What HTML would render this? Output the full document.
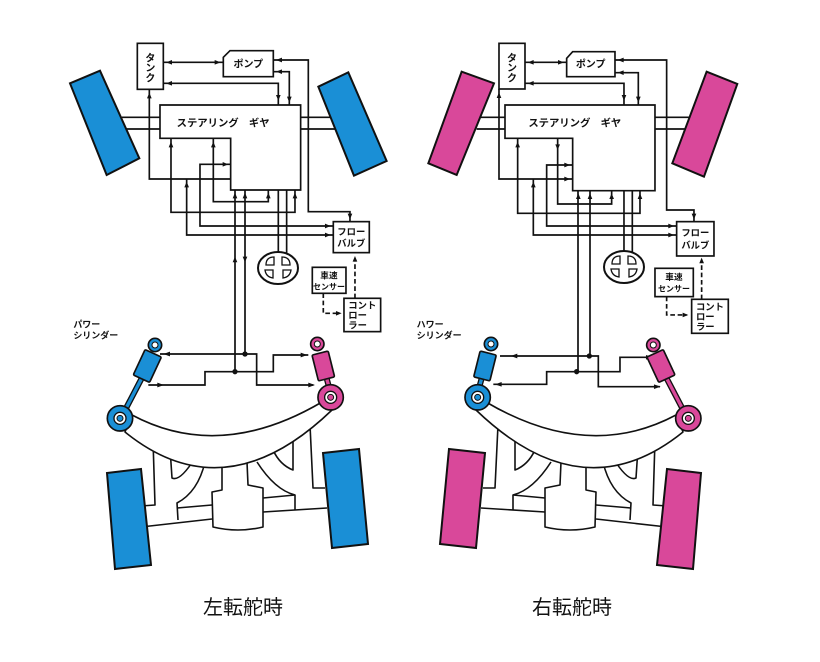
<!DOCTYPE html>
<html><head><meta charset="utf-8"><style>
html,body{margin:0;padding:0;background:#fff;}
svg{display:block;}
text{font-family:"Liberation Sans","Noto Sans CJK JP",sans-serif;fill:#111;}
</style></head><body>
<svg width="820" height="662" viewBox="0 0 820 662" xmlns="http://www.w3.org/2000/svg">
<defs>
<g id="chassis" fill="none" stroke="#111" stroke-width="1.6" stroke-linejoin="round">
  <path d="M153,440 L155,505 L141,506"/>
  <path d="M141,527 L212,519"/>
  <path d="M170,448 L172,478 Q180,482 195,458"/>
  <path d="M205,462 Q198,492 177,503 L178,520"/>
  <path d="M177,508 L212,505"/>
  <path d="M222,462 L222,490 L212,492 L213,527 Q238,533 263,527 L263,488 L248,485 L247,462"/>
  <path d="M257,462 Q275,490 295,495 L295,510"/>
  <path d="M263,498 L295,495"/>
  <path d="M263,512 L327,508"/>
  <path d="M293,438 L293,470 Q280,465 273,450"/>
  <path d="M310,425 L313,488 L325,488"/>
  <path d="M132,415 Q220,462 322,402 L332,410 Q225,513 125,432 Z" fill="#fff"/>
</g>
<g id="wheels">
  <polygon points="107,473 141,469 151,565 115,569" stroke="#111" stroke-width="2"/>
  <polygon points="323,453 359,449 368,544 332,548" stroke="#111" stroke-width="2"/>
</g>
<g id="swheel" fill="none" stroke="#111">
  <ellipse cx="0" cy="0" rx="20" ry="16" fill="#fff" stroke-width="2"/>
  <path d="M-12,-3 Q-12,-11 -4,-11 L-4,-3 Z M12,-3 Q12,-11 4,-11 L4,-3 Z M-13,2 L-5,2 L-5,10 Q-12,9 -13,2 Z M13,2 L5,2 L5,10 Q12,9 13,2 Z" stroke-width="1.3"/>
</g>
</defs>

<!-- ===== LEFT TOP (zoom coords) ===== -->
<g transform="translate(60,30) scale(0.3333)">
  <g stroke="#111" stroke-width="5" fill="none">
    <line x1="185" y1="262" x2="300" y2="262"/><line x1="185" y1="297" x2="300" y2="297"/>
    <line x1="722" y1="262" x2="830" y2="262"/><line x1="722" y1="297" x2="830" y2="297"/>
  </g>
  <polygon points="30,160 120,122 238,385 140,435" fill="#1a8fd6" stroke="#111" stroke-width="6"/>
  <polygon points="775,170 865,127 980,393 882,437" fill="#1a8fd6" stroke="#111" stroke-width="6"/>
  <g stroke="#111" stroke-width="5" fill="none">
    <path d="M310,97 L490,97"/>
    <path d="M310,160 L655,160 L655,225"/>
    <path d="M640,90 L745,90 L745,545 L870,545 L870,575"/>
    <path d="M640,125 L688,125 L688,225"/>
    <path d="M268,178 L268,447 L512,447"/>
    <path d="M333,325 L333,547 L705,547 L705,480"/>
    <path d="M380,447 L380,615 L820,615"/>
    <path d="M512,403 L420,403 L420,588 L820,588"/>
    <path d="M460,325 L460,515 L625,515 L625,480"/>
    <path d="M655,480 L655,670"/><path d="M680,480 L680,670"/>
    <path d="M790,790 L790,850 L840,850" stroke-dasharray="14,8"/>
    <path d="M885,805 L885,685" stroke-dasharray="14,8"/>
  </g>
  <g fill="#111">
    <polygon points="318,97 336,90 336,104"/><polygon points="482,97 464,90 464,104"/>
    <polygon points="318,160 336,153 336,167"/><polygon points="655,212 648,195 662,195"/>
    <polygon points="648,90 666,83 666,97"/><polygon points="648,125 666,118 666,132"/>
    <polygon points="688,218 681,200 695,200"/><polygon points="870,568 863,551 877,551"/>
    <polygon points="268,188 261,205 275,205"/><polygon points="333,335 326,352 340,352"/>
    <polygon points="460,335 453,352 467,352"/><polygon points="380,455 373,472 387,472"/>
    <polygon points="505,403 488,396 488,410"/><polygon points="705,488 698,505 712,505"/>
    <polygon points="625,488 618,505 632,505"/><polygon points="812,588 795,581 795,595"/>
    <polygon points="812,615 795,608 795,622"/><polygon points="525,680 518,697 532,697"/>
    <polygon points="555,697 548,680 562,680"/><polygon points="525,488 518,505 532,505"/>
    <polygon points="555,488 548,505 562,505"/><polygon points="845,850 828,843 828,857"/>
    <polygon points="885,678 878,695 892,695"/>
  </g>
  <rect x="232" y="40" width="78" height="138" fill="#fff" stroke="#111" stroke-width="5"/>
  <text x="271" y="95" font-size="30" font-weight="bold" text-anchor="middle">タ</text>
  <text x="271" y="125" font-size="30" font-weight="bold" text-anchor="middle">ン</text>
  <text x="271" y="155" font-size="30" font-weight="bold" text-anchor="middle">ク</text>
  <path d="M510,62 L640,62 L640,140 L490,140 L490,82 Z" fill="#fff" stroke="#111" stroke-width="5"/>
  <text x="565" y="112" font-size="30" font-weight="bold" text-anchor="middle">ポンプ</text>
  <path d="M300,225 L722,225 L722,480 L512,480 L512,325 L300,325 Z" fill="#fff" stroke="#111" stroke-width="5"/>
  <text x="350" y="290" font-size="31" font-weight="bold">ステアリング　ギヤ</text>
  <rect x="820" y="575" width="108" height="93" fill="#fff" stroke="#111" stroke-width="5"/>
  <text x="874" y="615" font-size="28" font-weight="bold" text-anchor="middle">フロー</text>
  <text x="874" y="650" font-size="28" font-weight="bold" text-anchor="middle">バルブ</text>
  <rect x="757" y="712" width="101" height="78" fill="#fff" stroke="#111" stroke-width="5"/>
  <text x="807" y="745" font-size="26" font-weight="bold" text-anchor="middle">車速</text>
  <text x="807" y="778" font-size="24" font-weight="bold" text-anchor="middle">センサー</text>
  <rect x="852" y="805" width="110" height="100" fill="#fff" stroke="#111" stroke-width="5"/>
  <text x="865" y="835" font-size="28" font-weight="bold">コント</text>
  <text x="865" y="865" font-size="28" font-weight="bold">ロー</text>
  <text x="865" y="895" font-size="28" font-weight="bold">ラー</text>
  <text x="40" y="893" font-size="27" font-weight="bold">パワー</text>
  <text x="40" y="925" font-size="27" font-weight="bold">シリンダー</text>
</g>
<use href="#swheel" transform="translate(278,268)"/>

<!-- ===== RIGHT TOP ===== -->
<g transform="translate(420,30) scale(0.3333)">
  <g stroke="#111" stroke-width="5" fill="none">
    <line x1="170" y1="262" x2="255" y2="262"/><line x1="170" y1="297" x2="255" y2="297"/>
    <line x1="705" y1="262" x2="820" y2="262"/><line x1="705" y1="297" x2="820" y2="297"/>
  </g>
  <polygon points="125,125 222,160 110,435 25,400" fill="#d9489a" stroke="#111" stroke-width="6"/>
  <polygon points="860,125 952,162 852,440 757,400" fill="#d9489a" stroke="#111" stroke-width="6"/>
  <g stroke="#111" stroke-width="5" fill="none">
    <path d="M315,97 L440,97"/>
    <path d="M315,160 L612,160 L612,225"/>
    <path d="M585,90 L740,90 L740,540 L822,540 L822,575"/>
    <path d="M585,128 L655,128 L655,225"/>
    <path d="M237,177 L237,447 L458,447"/>
    <path d="M293,325 L293,550 L660,550 L660,482"/>
    <path d="M340,447 L340,615 L770,615"/>
    <path d="M458,405 L380,405 L380,588 L770,588"/>
    <path d="M413,325 L413,522 L575,522 L575,482"/>
    <path d="M612,482 L612,668"/><path d="M637,482 L637,668"/>
    <path d="M740,800 L740,855 L800,855" stroke-dasharray="14,8"/>
    <path d="M845,808 L845,690" stroke-dasharray="14,8"/>
  </g>
  <g fill="#111">
    <polygon points="323,97 341,90 341,104"/><polygon points="432,97 414,90 414,104"/>
    <polygon points="323,160 341,153 341,167"/><polygon points="612,212 605,195 619,195"/>
    <polygon points="593,90 611,83 611,97"/><polygon points="593,128 611,121 611,135"/>
    <polygon points="655,218 648,200 662,200"/><polygon points="822,568 815,551 829,551"/>
    <polygon points="237,187 230,204 244,204"/><polygon points="293,335 286,352 300,352"/>
    <polygon points="413,360 406,343 420,343"/><polygon points="340,455 333,472 347,472"/>
    <polygon points="450,405 433,398 433,412"/><polygon points="450,447 433,440 433,454"/>
    <polygon points="660,490 653,507 667,507"/><polygon points="575,490 568,507 582,507"/>
    <polygon points="762,588 745,581 745,595"/><polygon points="762,615 745,608 745,622"/>
    <polygon points="475,490 468,507 482,507"/><polygon points="510,490 503,507 517,507"/>
    <polygon points="805,855 788,848 788,862"/><polygon points="845,683 838,700 852,700"/>
  </g>
  <rect x="237" y="40" width="78" height="137" fill="#fff" stroke="#111" stroke-width="5"/>
  <text x="276" y="95" font-size="30" font-weight="bold" text-anchor="middle">タ</text>
  <text x="276" y="125" font-size="30" font-weight="bold" text-anchor="middle">ン</text>
  <text x="276" y="155" font-size="30" font-weight="bold" text-anchor="middle">ク</text>
  <path d="M458,65 L585,65 L585,140 L440,140 L440,85 Z" fill="#fff" stroke="#111" stroke-width="5"/>
  <text x="512" y="113" font-size="30" font-weight="bold" text-anchor="middle">ポンプ</text>
  <path d="M255,225 L705,225 L705,482 L458,482 L458,325 L255,325 Z" fill="#fff" stroke="#111" stroke-width="5"/>
  <text x="325" y="290" font-size="31" font-weight="bold">ステアリング　ギヤ</text>
  <rect x="770" y="575" width="112" height="103" fill="#fff" stroke="#111" stroke-width="5"/>
  <text x="826" y="618" font-size="28" font-weight="bold" text-anchor="middle">フロー</text>
  <text x="826" y="655" font-size="28" font-weight="bold" text-anchor="middle">バルブ</text>
  <rect x="705" y="715" width="115" height="85" fill="#fff" stroke="#111" stroke-width="5"/>
  <text x="762" y="750" font-size="26" font-weight="bold" text-anchor="middle">車速</text>
  <text x="762" y="785" font-size="24" font-weight="bold" text-anchor="middle">センサー</text>
  <rect x="815" y="808" width="110" height="102" fill="#fff" stroke="#111" stroke-width="5"/>
  <text x="828" y="840" font-size="28" font-weight="bold">コント</text>
  <text x="828" y="870" font-size="28" font-weight="bold">ロー</text>
  <text x="828" y="900" font-size="28" font-weight="bold">ラー</text>
  <text x="-10" y="893" font-size="27" font-weight="bold">ハワー</text>
  <text x="-10" y="925" font-size="27" font-weight="bold">シリンダー</text>
</g>
<use href="#swheel" transform="translate(624,267)"/>

<!-- long vertical pressure lines (pixel coords) -->
<g stroke="#111" stroke-width="1.7">
  <line x1="235" y1="190" x2="235" y2="372"/><line x1="245" y1="190" x2="245" y2="354"/>
  <line x1="578" y1="191" x2="578" y2="372"/><line x1="590" y1="191" x2="590" y2="356"/>
</g>

<!-- ===== LEFT BOTTOM ===== -->
<use href="#chassis"/>
<use href="#wheels" fill="#1a8fd6"/>
<g transform="translate(60,320) scale(0.3333)">
  <g stroke="#111" stroke-width="5" fill="none">
    <path d="M300,102 L555,102 L590,102 L590,195 L760,195"/>
    <path d="M265,195 L435,195 L435,155 L640,155 L640,105 L745,105"/>
  </g>
  <g fill="#111">
    <circle cx="525" cy="155" r="8"/><circle cx="555" cy="102" r="8"/>
    <polygon points="310,102 330,95 330,109"/><polygon points="312,195 292,188 292,202"/>
    <polygon points="742,105 722,98 722,112"/><polygon points="765,195 745,188 745,202"/>
  </g>
  <!-- long blue cylinder -->
  <line x1="245" y1="175" x2="185" y2="290" stroke="#111" stroke-width="18"/>
  <line x1="245" y1="175" x2="185" y2="290" stroke="#1a8fd6" stroke-width="10"/>
  <circle cx="285" cy="75" r="20" fill="#1a8fd6" stroke="#111" stroke-width="5"/>
  <circle cx="285" cy="75" r="9" fill="#fff" stroke="#111" stroke-width="3"/>
  <rect x="-27" y="-42" width="54" height="84" rx="4" transform="translate(262,138) rotate(25)" fill="#1a8fd6" stroke="#111" stroke-width="5"/>
  <circle cx="180" cy="295" r="38" fill="#1a8fd6" stroke="#111" stroke-width="5"/>
  <circle cx="180" cy="295" r="18" fill="#fff" stroke="#111" stroke-width="4"/>
  <circle cx="180" cy="295" r="9" fill="#1a8fd6" stroke="#111" stroke-width="3"/>
  <!-- short pink cylinder -->
  <line x1="800" y1="175" x2="808" y2="205" stroke="#111" stroke-width="18"/>
  <line x1="800" y1="175" x2="808" y2="205" stroke="#d9489a" stroke-width="10"/>
  <circle cx="772" cy="72" r="20" fill="#d9489a" stroke="#111" stroke-width="5"/>
  <circle cx="772" cy="72" r="9" fill="#fff" stroke="#111" stroke-width="3"/>
  <rect x="-25" y="-40" width="50" height="80" rx="4" transform="translate(790,138) rotate(-14)" fill="#d9489a" stroke="#111" stroke-width="5"/>
  <circle cx="812" cy="232" r="38" fill="#d9489a" stroke="#111" stroke-width="5"/>
  <circle cx="812" cy="232" r="18" fill="#fff" stroke="#111" stroke-width="4"/>
  <circle cx="812" cy="232" r="9" fill="#d9489a" stroke="#111" stroke-width="3"/>
</g>
<text x="203" y="614" font-size="20">左転舵時</text>

<!-- ===== RIGHT BOTTOM ===== -->
<g transform="translate(808,0) scale(-1,1)">
  <use href="#chassis"/>
  <use href="#wheels" fill="#d9489a"/>
</g>
<g transform="translate(420,320) scale(0.3333)">
  <g stroke="#111" stroke-width="5" fill="none">
    <path d="M240,108 L508,108 L535,108 L535,200 L720,200"/>
    <path d="M220,193 L380,193 L380,155 L600,155 L600,112 L695,112"/>
  </g>
  <g fill="#111">
    <circle cx="470" cy="155" r="8"/><circle cx="508" cy="108" r="8"/>
    <polygon points="272,108 292,101 292,115"/><polygon points="225,193 245,186 245,200"/>
    <polygon points="698,112 678,105 678,119"/><polygon points="722,200 702,193 702,207"/>
  </g>
  <g transform="translate(985,0) scale(-1,1)">
    <line x1="245" y1="175" x2="185" y2="290" stroke="#111" stroke-width="18"/>
    <line x1="245" y1="175" x2="185" y2="290" stroke="#d9489a" stroke-width="10"/>
    <circle cx="285" cy="75" r="20" fill="#d9489a" stroke="#111" stroke-width="5"/>
    <circle cx="285" cy="75" r="9" fill="#fff" stroke="#111" stroke-width="3"/>
    <rect x="-27" y="-42" width="54" height="84" rx="4" transform="translate(262,138) rotate(25)" fill="#d9489a" stroke="#111" stroke-width="5"/>
    <circle cx="180" cy="295" r="38" fill="#d9489a" stroke="#111" stroke-width="5"/>
    <circle cx="180" cy="295" r="18" fill="#fff" stroke="#111" stroke-width="4"/>
    <circle cx="180" cy="295" r="9" fill="#d9489a" stroke="#111" stroke-width="3"/>
    <line x1="800" y1="175" x2="808" y2="205" stroke="#111" stroke-width="18"/>
    <line x1="800" y1="175" x2="808" y2="205" stroke="#1a8fd6" stroke-width="10"/>
    <circle cx="772" cy="72" r="20" fill="#1a8fd6" stroke="#111" stroke-width="5"/>
    <circle cx="772" cy="72" r="9" fill="#fff" stroke="#111" stroke-width="3"/>
    <rect x="-25" y="-40" width="50" height="80" rx="4" transform="translate(790,138) rotate(-14)" fill="#1a8fd6" stroke="#111" stroke-width="5"/>
    <circle cx="812" cy="232" r="38" fill="#1a8fd6" stroke="#111" stroke-width="5"/>
    <circle cx="812" cy="232" r="18" fill="#fff" stroke="#111" stroke-width="4"/>
    <circle cx="812" cy="232" r="9" fill="#1a8fd6" stroke="#111" stroke-width="3"/>
  </g>
</g>
<text x="532" y="614" font-size="20">右転舵時</text>
</svg>
</body></html>
